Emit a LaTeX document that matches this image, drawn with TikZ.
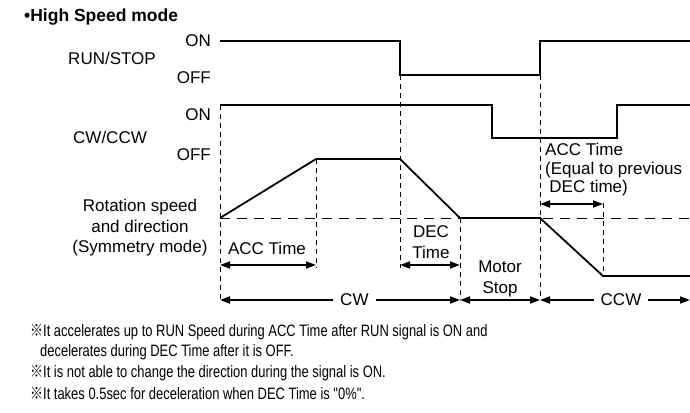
\documentclass[tikz,border=0pt]{standalone}
\usepackage{fontspec}
\setmainfont{Liberation Sans}
\newfontfamily\notefont[FakeStretch=0.785]{Liberation Sans}
\newfontfamily\markfont[FakeStretch=0.785]{Noto Sans CJK JP}
\usetikzlibrary{arrows.meta}
\newcommand{\refnote}{{\markfont ※}}

\begin{document}
\begin{tikzpicture}[
  x=1pt,
  y=-1pt,
  every node/.style={font=\fontsize{17}{20.5}\selectfont, inner sep=0pt},
  signal/.style={line width=1.8pt},
  guide/.style={line width=0.7pt, dash pattern=on 5pt off 4pt},
  zero/.style={line width=0.9pt, dash pattern=on 10pt off 7pt},
  span/.style={line width=1.8pt, {Triangle[length=10pt,width=7pt]}-{Triangle[length=10pt,width=7pt]}},
  note/.style={anchor=west, font=\notefont\fontsize{16.5}{20}\selectfont}
]
\useasboundingbox (0,0) rectangle (690,412);

% time marks
\coordinate (t0) at (220,0);
\coordinate (t1) at (316,0);
\coordinate (t2) at (400,0);
\coordinate (t3) at (460,0);
\coordinate (t4) at (540,0);
\coordinate (t5) at (603,0);
\coordinate (tend) at (690,0);

\node[anchor=west, font=\bfseries\fontsize{17.5}{20}\selectfont] (title) at (24,17) {•High Speed mode};

% RUN/STOP
\node[anchor=east] (runon) at (211,41) {ON};
\node (runname) at (112,58) {RUN/STOP};
\node[anchor=east] (runoff) at (211,78) {OFF};
\draw[signal] (220,41) -- (400,41) -- (400,75) -- (540,75) -- (540,41) -- (690,41);

% CW/CCW
\node[anchor=east] (diron) at (211,115) {ON};
\node (dirname) at (110,137) {CW/CCW};
\node[anchor=east] (diroff) at (211,155) {OFF};
\draw[signal] (220,105) -- (492,105) -- (492,138) -- (617,138) -- (617,105) -- (690,105);

% rotation speed
\node[align=center] (speedname) at (140,228)
  {Rotation speed\\and direction\\(Symmetry mode)};
\draw[zero] (220,218) -- (690,218);
\draw[signal] (220,218) -- (316,159) -- (400,159) -- (460,218) -- (540,218) -- (603,276) -- (690,276);

% guides
\draw[guide] (220,105) -- (220,300);
\draw[guide] (316,159) -- (316,268);
\draw[guide] (400,75) -- (400,268);
\draw[guide] (460,218) -- (460,300);
\draw[guide] (540,75) -- (540,300);
\draw[guide] (603,203) -- (603,276);

% time spans
\draw[span] (t0 |- 0,265) -- (t1 |- 0,265);
\node (acc) at (267,248) {ACC Time};
\draw[span] (t2 |- 0,265) -- (t3 |- 0,265);
\node[align=center] (dec) at (431,242) {DEC\\Time};
\draw[span] (t4 |- 0,204) -- (t5 |- 0,204);
\node[anchor=west, align=left, font=\fontsize{17}{18.5}\selectfont] (accccw) at (545,170)
  {ACC Time\\(Equal to previous\\\hspace{0.25em}DEC time)};

\draw[span] (t0 |- 0,300) -- node[pos=0.56, fill=white, inner xsep=7pt, inner ysep=2pt] (cw) {CW} (t3 |- 0,300);
\draw[span] (t3 |- 0,300) -- (t4 |- 0,300);
\node[align=center] (stop) at (500,279) {Motor\\Stop};
\draw[span] (t4 |- 0,300) -- node[pos=0.54, fill=white, inner xsep=7pt, inner ysep=2pt] (ccw) {CCW} (tend |- 0,300);

% notes
\node[note] (note1) at (30,332) {\refnote It accelerates up to RUN Speed during ACC Time after RUN signal is ON and};
\node[note] (note2) at (40,352) {decelerates during DEC Time after it is OFF.};
\node[note] (note3) at (30,373) {\refnote It is not able to change the direction during the signal is ON.};
\node[note] (note4) at (30,393) {\refnote It takes 0.5sec for deceleration when DEC Time is "0\%".};
\end{tikzpicture}
\end{document}
